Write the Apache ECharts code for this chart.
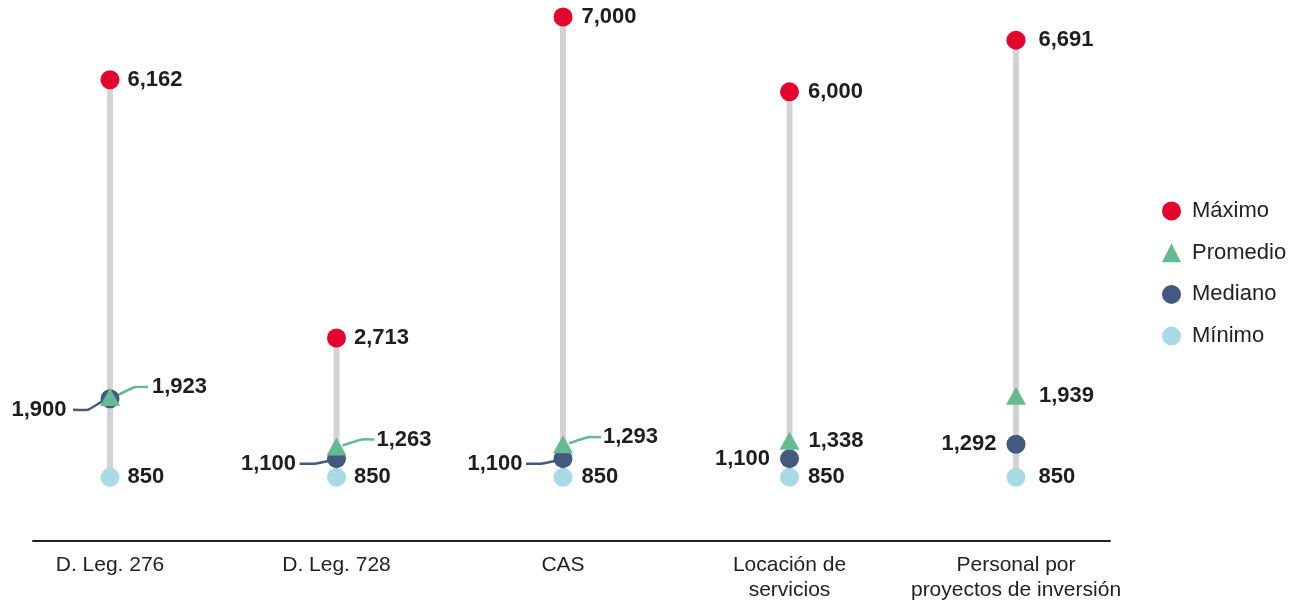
<!DOCTYPE html>
<html>
<head>
<meta charset="utf-8">
<script src="https://cdn.jsdelivr.net/npm/echarts@6/dist/echarts.min.js"></script>
<style>
html,body{margin:0;padding:0;background:#fff;}
#chart{width:1299px;height:600px;}
</style>
</head>
<body>
<div id="chart"></div>
<script>
// ---- data ----
const categories = ['D. Leg. 276', 'D. Leg. 728', 'CAS', 'Locación de\nservicios', 'Personal por\nproyectos de inversión'];
const maximo   = [6162, 2713, 7000, 6000, 6691];
const promedio = [1923, 1263, 1293, 1338, 1939];
const mediano  = [1900, 1100, 1100, 1100, 1292];
const minimo   = [850, 850, 850, 850, 850];

// ---- styling / layout (not data) ----
const FONT = 'Liberation Sans, Arial, sans-serif';
const C_MAX = '#e4032e', C_PROM = '#66ba92', C_MED = '#44597f', C_MIN = '#a8dbe5';
const rightColShift = [0, 0, 1, 1, 5];
// label shifts (px) for labels moved away with a leader line: [dx, dy]
const promShift = {0: [24, -10], 1: [22, -7], 2: [21, -7]};
const medShift  = {0: [-24, 11], 1: [-21, 5], 2: [-21, 5]};

const fmt = v => v.toLocaleString('en-US');
const toPts = arr => arr.map((v, i) => [i, v]);

const labelBase = {
  show: true, fontFamily: FONT, fontSize: 22, fontWeight: 'bold', color: '#1e1e1e',
  formatter: p => fmt(p.value[1])
};

function rightLayout(shifts) {
  return function (p) {
    const s = shifts && shifts[p.dataIndex];
    const dx = rightColShift[p.dataIndex] + (s ? s[0] : 0);
    return {dx: dx, dy: s ? s[1] : 0};
  };
}

// leader line items: [categoryIndex, value, side(+1 right / -1 left), dy]
function leaderItems(arr, shifts, side) {
  return Object.keys(shifts).map(k => [Number(k), arr[k], side, shifts[k][1], shifts[k][0]]);
}

function leaderSeries(name, arr, shifts, side, color) {
  return {
    type: 'custom', name: name + '-guia', silent: true, z: 2,
    data: leaderItems(arr, shifts, side),
    renderItem: function (params, api) {
      const p = api.coord([api.value(0), api.value(1)]);
      const s = api.value(2), dy = api.value(3);
      const pts = s > 0
        ? [[p[0] + 6, p[1] - 1], [p[0] + 25, p[1] + dy], [p[0] + 38, p[1] + dy]]
        : [[p[0] - 7, p[1] + 2], [p[0] - 22, p[1] + dy], [p[0] - 37, p[1] + dy]];
      return {type: 'polyline', shape: {points: pts, smooth: 0.1},
              style: {stroke: color, lineWidth: 2.5, fill: null}};
    }
  };
}

const chart = echarts.init(document.getElementById('chart'), null, {renderer: 'canvas'});
chart.setOption({
  animation: false,
  backgroundColor: '#fff',
  grid: {left: 33, right: 189, top: 17, bottom: 59, outerBoundsMode: 'none', containLabel: false},
  xAxis: {
    type: 'value', min: -0.34, max: 4.415,
    splitLine: {show: false},
    axisLine: {show: true, onZero: false, lineStyle: {color: '#222', width: 2}},
    axisTick: {show: false},
    axisLabel: {
      show: true, customValues: [0, 1, 2, 3, 4],
      formatter: v => categories[Math.round(v)] || '',
      fontFamily: FONT, fontSize: 21, color: '#222', lineHeight: 25, margin: 12,
      showMinLabel: true, showMaxLabel: true
    }
  },
  yAxis: {type: 'value', min: 0, max: 7000, show: false, splitLine: {show: false}},
  legend: {
    orient: 'vertical', left: 1157, top: 195,
    itemWidth: 19, itemHeight: 19, itemGap: 19.7,
    textStyle: {fontFamily: FONT, fontSize: 22, color: '#222', lineHeight: 19, padding: [0, 0, 0, 6]},
    data: ['Máximo', 'Promedio', 'Mediano', 'Mínimo']
  },
  series: [
    {
      type: 'custom', name: 'rango', silent: true, z: 1,
      data: categories.map((c, i) => [i, minimo[i], maximo[i]]),
      renderItem: function (params, api) {
        const a = api.coord([api.value(0), api.value(1)]);
        const b = api.coord([api.value(0), api.value(2)]);
        return {type: 'line', shape: {x1: a[0], y1: a[1], x2: b[0], y2: b[1]},
                style: {stroke: '#d3d3d3', lineWidth: 6}};
      }
    },
    leaderSeries('Mediano', mediano, medShift, -1, C_MED),
    leaderSeries('Promedio', promedio, promShift, 1, C_PROM),
    {
      type: 'scatter', name: 'Mínimo', z: 3, symbol: 'circle', symbolSize: 19,
      itemStyle: {color: C_MIN, opacity: 1},
      data: toPts(minimo),
      label: Object.assign({}, labelBase, {position: 'right', distance: 8}),
      labelLayout: rightLayout(null)
    },
    {
      type: 'scatter', name: 'Mediano', z: 4, symbol: 'circle', symbolSize: 19,
      itemStyle: {color: C_MED, opacity: 1},
      data: toPts(mediano),
      label: Object.assign({}, labelBase, {position: 'left', distance: 10}),
      labelLayout: function (p) {
        const s = medShift[p.dataIndex];
        return s ? {dx: s[0], dy: s[1]} : {};
      }
    },
    {
      type: 'scatter', name: 'Promedio', z: 5, symbol: 'triangle', symbolSize: [20, 18],
      itemStyle: {color: C_PROM, opacity: 1},
      data: toPts(promedio),
      label: Object.assign({}, labelBase, {position: 'right', distance: 8}),
      labelLayout: rightLayout(promShift)
    },
    {
      type: 'scatter', name: 'Máximo', z: 6, symbol: 'circle', symbolSize: 19,
      itemStyle: {color: C_MAX, opacity: 1},
      data: toPts(maximo),
      label: Object.assign({}, labelBase, {position: 'right', distance: 8}),
      labelLayout: rightLayout(null)
    }
  ]
});
</script>
</body>
</html>
